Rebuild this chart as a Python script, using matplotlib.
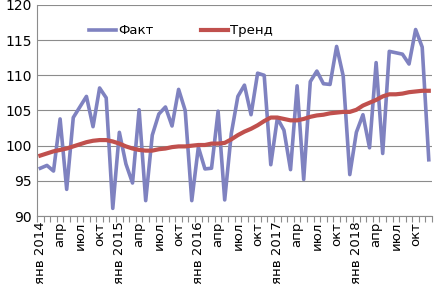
import numpy as np
import matplotlib
matplotlib.use("Agg")
import matplotlib.pyplot as plt

months = ['янв', 'фев', 'мар', 'апр', 'май', 'июн',
          'июл', 'авг', 'сен', 'окт', 'ноя', 'дек']
years = [2014, 2015, 2016, 2017, 2018]

fact = [96.8, 97.2, 96.4, 103.8, 93.8, 104.0, 105.5, 107.0, 102.7, 108.2, 106.8, 91.1,
        101.9, 97.4, 94.7, 105.1, 92.2, 101.5, 104.5, 105.5, 102.8, 108.0, 105.0, 92.2,
        99.8, 96.7, 96.8, 104.9, 92.3, 101.7, 107.0, 108.6, 104.4, 110.3, 110.0, 97.3,
        103.9, 102.2, 96.6, 108.5, 95.2, 109.1, 110.6, 108.8, 108.7, 114.1, 109.9, 95.9,
        101.9, 104.4, 99.7, 111.8, 98.9, 113.4, 113.2, 113.0, 111.6, 116.5, 114.0, 98.0]

trend = [98.6, 98.9, 99.2, 99.4, 99.6, 99.9, 100.2, 100.5, 100.7, 100.8, 100.8, 100.6,
         100.3, 99.9, 99.6, 99.4, 99.3, 99.3, 99.5, 99.6, 99.8, 99.9, 99.9, 100.0,
         100.1, 100.1, 100.3, 100.3, 100.4, 100.9, 101.5, 102.0, 102.4, 102.9, 103.5, 104.0,
         104.0, 103.8, 103.6, 103.6, 103.8, 104.1, 104.3, 104.4, 104.6, 104.7, 104.8, 104.8,
         105.1, 105.7, 106.1, 106.5, 107.0, 107.3, 107.3, 107.4, 107.6, 107.7, 107.8, 107.8]

labels = []
for y in years:
    for i, m in enumerate(months):
        labels.append(f'{m} {y}' if i == 0 else m)


def main():
    fig = plt.figure(figsize=(4.36, 2.87), dpi=100)
    ax = fig.add_axes([0.085, 0.247, 0.906, 0.736])
    x = np.arange(len(fact))

    ax.plot(x, fact, color='#7f82c0', lw=2.6, label='Факт')
    ax.plot(x, trend, color='#c0504d', lw=3.0, label='Тренд')

    ax.set_xlim(-0.5, len(fact) - 0.5)
    ax.set_ylim(90, 120)
    ax.set_yticks(np.arange(90, 121, 5))
    ax.yaxis.grid(True, color='#8c8c8c', lw=0.8)
    ax.set_axisbelow(True)
    ax.tick_params(axis='y', length=0, labelsize=10, pad=4)

    ax.set_xticks(x[::3])
    ax.set_xticklabels(labels[::3], rotation=90, fontsize=9.5)
    ax.set_xticks(np.arange(-0.5, len(fact), 1), minor=True)
    ax.tick_params(axis='x', which='major', length=0, pad=4)
    ax.tick_params(axis='x', which='minor', length=4, color='#8c8c8c', width=0.8)

    for s in ['top', 'right']:
        ax.spines[s].set_visible(False)
    for s in ['left', 'bottom']:
        ax.spines[s].set_color('#8c8c8c')
        ax.spines[s].set_linewidth(0.8)

    ax.legend(loc='upper center', bbox_to_anchor=(0.365, 0.965), ncol=2, frameon=False,
              fontsize=9.5, handlelength=2.0, handletextpad=0.2, columnspacing=3.6)

    fig.savefig('out.png', dpi=100)


if __name__ == '__main__':
    main()
